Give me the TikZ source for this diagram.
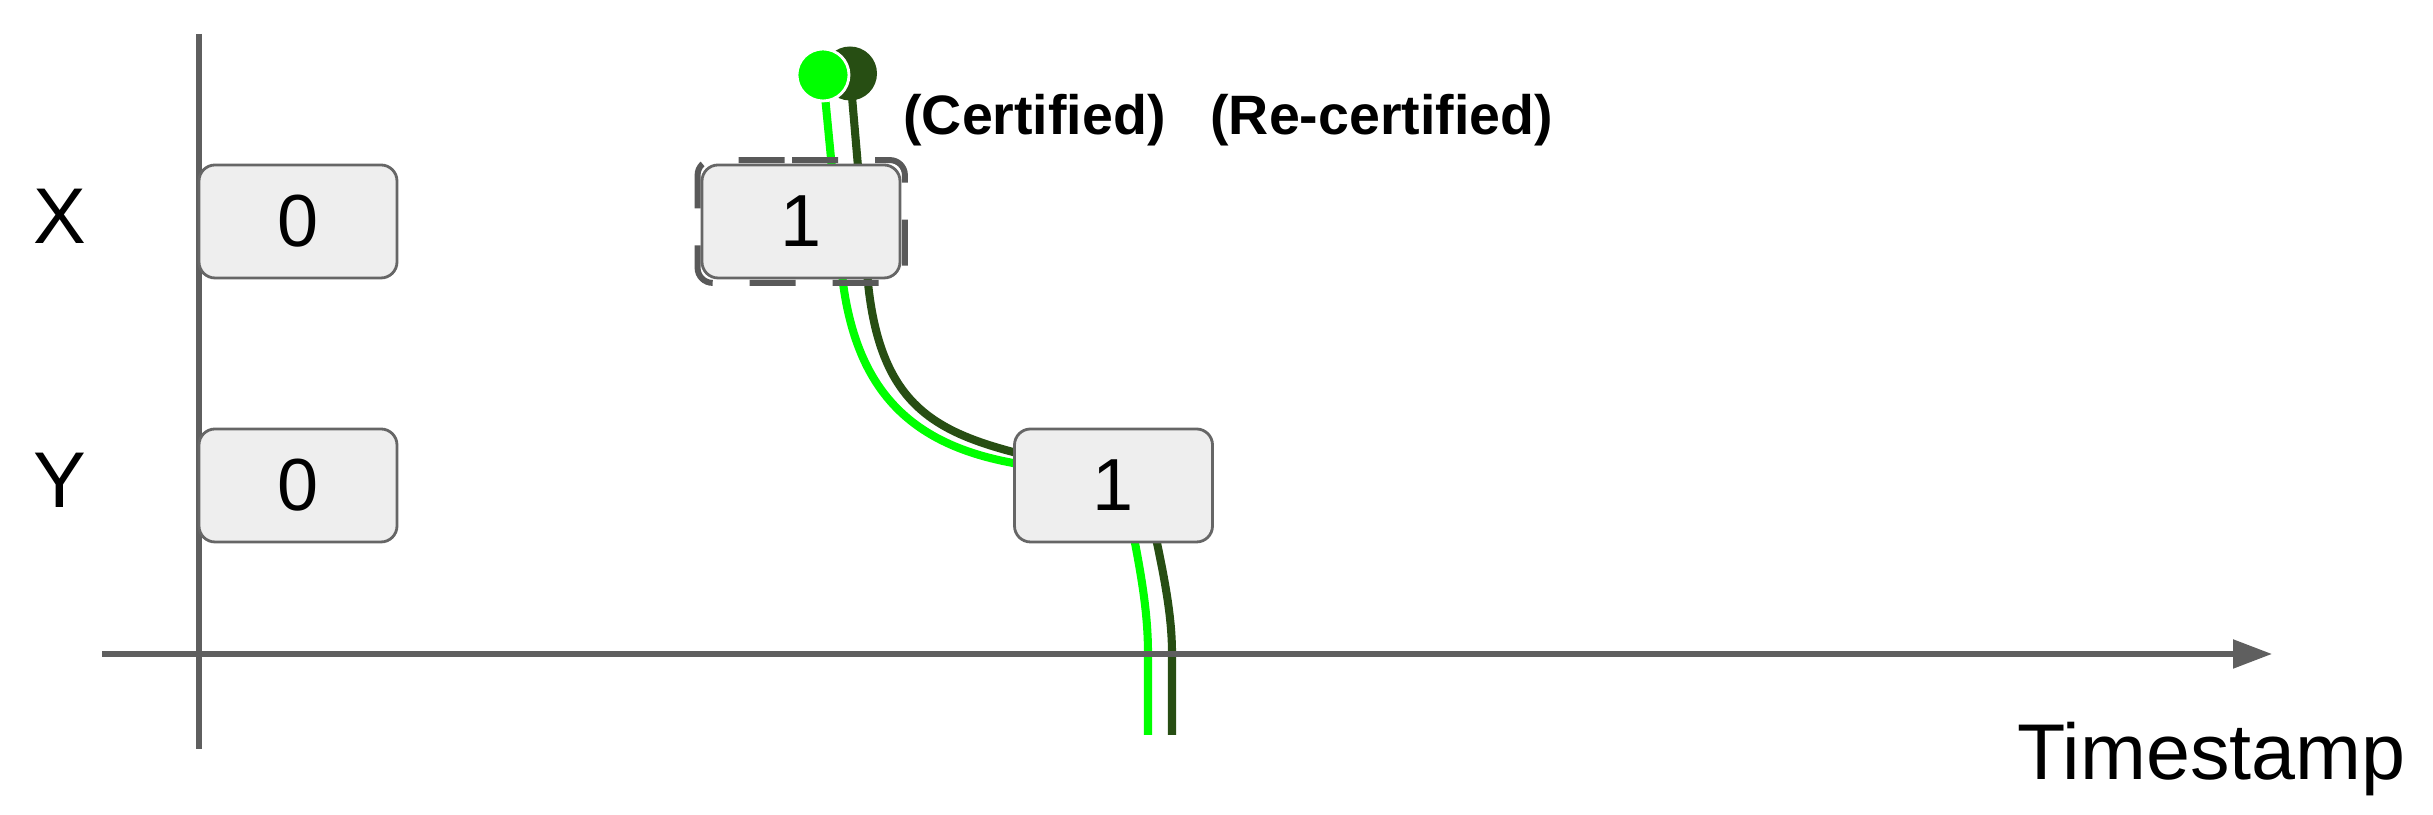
\documentclass[tikz,border=0pt]{standalone}
\usepackage{fontspec}
\setmainfont{Liberation Sans}
\usetikzlibrary{arrows.meta,backgrounds}

\definecolor{axisgray}{HTML}{5F5F5F}
\definecolor{boxfill}{HTML}{EEEEEE}
\definecolor{boxline}{HTML}{666666}
\definecolor{pickgray}{HTML}{595959}
\definecolor{certgreen}{HTML}{00FF00}
\definecolor{recertgreen}{HTML}{274E13}

\begin{document}
\begin{tikzpicture}[
  valbox/.style={draw=boxline, line width=0.8pt, fill=boxfill, rounded corners=0.16cm,
    minimum width=1.98cm, minimum height=1.13cm, inner sep=0pt, font=\fontsize{21}{25}\selectfont},
  axisline/.style={draw=axisgray, line width=1.5pt},
  rowlbl/.style={font=\fontsize{22.5}{27}\selectfont},
  statelbl/.style={anchor=base west, font=\fontsize{15.8}{19}\selectfont\bfseries},
  pickbox/.style={draw=pickgray, line width=1.7pt, rounded corners=0.15cm, dash pattern=on 0.46cm off 0.37cm},
  certline/.style={line width=2.3pt}
]
\useasboundingbox (0,0) rectangle (24.33,8.15);

% Axes and their labels
\draw[axisline] (1.99,7.81) -- (1.99,0.66);
\draw[axisline, -{Triangle[length=3.9mm, width=2.8mm]}] (1.02,1.61) -- (22.72,1.61);
\node[rowlbl, anchor=base west] (tslbl) at (20.05,0.35) {Timestamp};
\node[rowlbl] (xlbl) at (0.60,5.99) {X};
\node[rowlbl] (ylbl) at (0.60,3.35) {Y};

% Value boxes, row X then row Y
\node[valbox] (x0) at (2.98,5.935) {0};
\node[valbox] (x1) at (8.01,5.935) {1};
\node[valbox] (y0) at (2.98,3.295) {0};
\node[valbox] (y1) at (11.135,3.295) {1};

% Dashed frame round the picked X box
\draw[pickbox] ([shift={(-0.24,0.035)}]x1.north) -- ([shift={(0.035,0.035)}]x1.north east)
  -- ([shift={(0.035,-0.035)}]x1.south east) -- ([shift={(-0.03,-0.035)}]x1.south west)
  -- ([shift={(-0.03,0.035)}]x1.north west) -- cycle;

% Dots and their labels
\node[circle, fill=recertgreen, minimum size=0.54cm, inner sep=0pt] (recertdot) at (8.50,7.415) {};
\node[circle, fill=certgreen, draw=white, line width=0.8pt, minimum size=0.52cm, inner sep=0pt] (certdot) at (8.23,7.40) {};
\node[statelbl] (certtag) at (8.91,6.80) {(Certified)};
\node[statelbl] (recerttag) at (11.98,6.80) {(Re-certified)};

% Free ends below the time axis
\coordinate (certend) at (11.48,0.80);
\coordinate (recertend) at (11.72,0.80);

% Green lines, kept behind the boxes
\begin{scope}[on background layer]
\draw[certline, certgreen] (certdot.center) -- (8.43,5.32) .. controls (8.58,4.20) and (9.15,3.70) .. (10.13,3.52)
  .. controls (10.9,3.3) and (11.3,3.1) .. (11.35,2.72) .. controls (11.45,2.2) and (11.48,1.9) .. (11.48,1.61) -- (certend);
\draw[certline, recertgreen] (recertdot.center) -- (8.68,5.32) .. controls (8.80,4.15) and (9.30,3.85) .. (10.13,3.63)
  .. controls (10.9,3.4) and (11.5,3.1) .. (11.57,2.72) .. controls (11.68,2.2) and (11.72,1.9) .. (11.72,1.61) -- (recertend);
\end{scope}

\end{tikzpicture}
\end{document}
